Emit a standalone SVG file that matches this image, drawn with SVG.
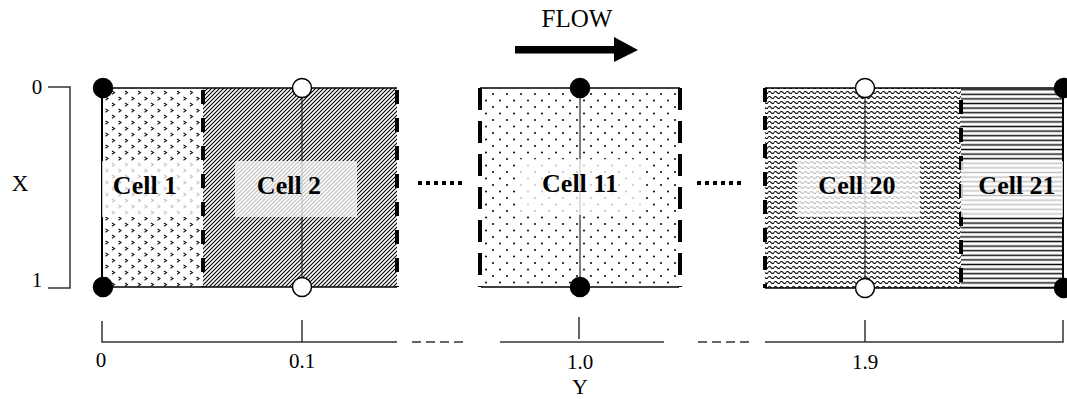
<svg xmlns="http://www.w3.org/2000/svg" width="1067" height="399" viewBox="0 0 1067 399">
<defs>
  <pattern id="pChev" patternUnits="userSpaceOnUse" width="13" height="12">
    <path d="M1.5,1 L4,2.6 L1.5,4.2 M8,7 L10.5,8.6 L8,10.2" fill="none" stroke="#111" stroke-width="1.1"/>
  </pattern>
  <pattern id="pDiag" patternUnits="userSpaceOnUse" width="4" height="4">
    <path d="M-1,1 L1,-1 M0,4 L4,0 M3,5 L5,3" stroke="#000" stroke-width="1.1"/>
  </pattern>
  <pattern id="pDots" patternUnits="userSpaceOnUse" width="14" height="13">
    <circle cx="3" cy="3" r="1" fill="#000"/>
    <circle cx="10" cy="9.5" r="1" fill="#000"/>
  </pattern>
  <pattern id="pWave" patternUnits="userSpaceOnUse" width="6" height="5">
    <path d="M0,2.5 Q1.5,0.5 3,2.5 T6,2.5" fill="none" stroke="#000" stroke-width="1.2"/>
  </pattern>
  <pattern id="pHor" patternUnits="userSpaceOnUse" width="6" height="4.6">
    <path d="M0,2.3 H6" stroke="#111" stroke-width="1.5"/>
  </pattern>
</defs>
<style>
  .lbl { font-family: "Liberation Serif", "Times New Roman", serif; font-weight: bold; font-size: 26px; fill: #000; text-anchor: middle; }
  .txt { font-family: "Liberation Serif", "Times New Roman", serif; font-size: 21px; fill: #000; text-anchor: middle; }
  .box { fill: #fff; fill-opacity: 0.75; }
  .edge { stroke: #000; stroke-width: 1.6; fill: none; }
  .mid { stroke: #000; stroke-width: 1; }
  .dash { stroke: #000; stroke-width: 4; fill: none; }
  .axis { stroke: #333; stroke-width: 1.5; fill: none; }
  .full { fill: #000; stroke: #000; stroke-width: 1.5; }
  .open { fill: #fff; stroke: #000; stroke-width: 1.5; }
</style>

<!-- Flow arrow -->
<g id="flow">
  <text x="577" y="27" class="txt" style="font-size:25px">FLOW</text>
  <rect x="515" y="46" width="102" height="7.5" fill="#000"/>
  <polygon points="614,37 638,50 614,62" fill="#000"/>
</g>

<!-- Cells -->
<g id="cell1">
  <rect x="102" y="88" width="101" height="199" fill="url(#pChev)"/>
</g>
<g id="cell2">
  <rect x="203" y="88" width="194" height="199" fill="url(#pDiag)"/>
</g>
<g id="cell11">
  <rect x="480" y="88" width="200" height="199" fill="url(#pDots)"/>
</g>
<g id="cell20">
  <rect x="765" y="88" width="196" height="200" fill="url(#pWave)"/>
</g>
<g id="cell21">
  <rect x="961" y="88" width="102" height="200" fill="url(#pHor)"/>
</g>

<!-- Grid lines, boundaries and separators -->
<g id="connectors">
  <line x1="102" y1="88" x2="397" y2="88" class="edge"/>
  <line x1="102" y1="287" x2="397" y2="287" class="edge"/>
  <line x1="102" y1="88" x2="102" y2="287" class="edge" style="stroke-width:2"/>
  <line x1="302" y1="88" x2="302" y2="287" class="mid"/>
  <line x1="203" y1="90" x2="203" y2="287" class="dash" stroke-dasharray="14 14"/>
  <line x1="397" y1="90" x2="397" y2="287" class="dash" stroke-dasharray="14 14"/>
  <line x1="480" y1="88" x2="680" y2="88" class="edge"/>
  <line x1="481" y1="287" x2="679" y2="287" class="edge"/>
  <line x1="580" y1="88" x2="580" y2="287" class="mid"/>
  <line x1="480" y1="88" x2="480" y2="287" class="dash" stroke-dasharray="22 11"/>
  <line x1="680" y1="88" x2="680" y2="287" class="dash" stroke-dasharray="22 11"/>
  <line x1="765" y1="88" x2="1063" y2="88" class="edge"/>
  <line x1="765" y1="288" x2="1063" y2="288" class="edge"/>
  <line x1="1063" y1="88" x2="1063" y2="288" class="edge" style="stroke-width:2"/>
  <line x1="865" y1="88" x2="865" y2="288" class="mid"/>
  <line x1="765" y1="88" x2="765" y2="288" class="dash" stroke-dasharray="14 14"/>
  <line x1="961" y1="88" x2="961" y2="288" class="dash" stroke-dasharray="14 14" stroke-dashoffset="-40"/>
  <line x1="418" y1="183" x2="464" y2="183" stroke="#000" stroke-width="4" stroke-dasharray="4 4"/>
  <line x1="697" y1="183" x2="743" y2="183" stroke="#000" stroke-width="4" stroke-dasharray="4 4"/>
</g>

<!-- Label boxes and texts -->
<g id="labels">
  <rect x="102" y="161" width="98" height="56" class="box"/>
  <rect x="235" y="161" width="122" height="56" class="box"/>
  <rect x="519" y="159" width="122" height="56" class="box"/>
  <rect x="797" y="161" width="123" height="56" class="box"/>
  <rect x="961" y="161" width="102" height="56" class="box"/>
  <text x="145" y="194" class="lbl">Cell 1</text>
  <text x="289" y="194" class="lbl">Cell 2</text>
  <text x="580" y="192" class="lbl">Cell 11</text>
  <text x="857" y="194" class="lbl">Cell 20</text>
  <text x="1017" y="194" class="lbl">Cell 21</text>
</g>

<!-- Nodes -->
<g id="nodes">
  <circle cx="103" cy="88" r="9.5" class="full"/>
  <circle cx="103" cy="287" r="9.5" class="full"/>
  <circle cx="302" cy="88" r="9.5" class="open"/>
  <circle cx="302" cy="287" r="9.5" class="open"/>
  <circle cx="580" cy="88" r="9.5" class="full"/>
  <circle cx="580" cy="287" r="9.5" class="full"/>
  <circle cx="865" cy="88" r="9.5" class="open"/>
  <circle cx="865" cy="288" r="9.5" class="open"/>
  <circle cx="1064" cy="88" r="9.5" class="full"/>
  <circle cx="1064" cy="288" r="9.5" class="full"/>
</g>

<!-- X axis bracket -->
<g id="x-axis">
  <path d="M48,87 H70 V288 H48" class="axis"/>
  <text x="37" y="94" class="txt">0</text>
  <text x="37" y="287" class="txt">1</text>
  <text x="20" y="191" class="txt" style="font-size:23px">X</text>
</g>

<!-- Y axis -->
<g id="y-axis">
  <path d="M102,321 V342 H397" class="axis"/>
  <line x1="302" y1="320" x2="302" y2="342" class="axis"/>
  <line x1="412" y1="342" x2="463" y2="342" class="axis" stroke-dasharray="9 5"/>
  <line x1="500" y1="342" x2="664" y2="342" class="axis"/>
  <line x1="579" y1="317" x2="579" y2="339" class="axis"/>
  <line x1="698" y1="342" x2="750" y2="342" class="axis" stroke-dasharray="9 5"/>
  <path d="M765,342 H1063 V320" class="axis"/>
  <line x1="865" y1="320" x2="865" y2="342" class="axis"/>
  <text x="101" y="367" class="txt">0</text>
  <text x="302" y="368" class="txt">0.1</text>
  <text x="580" y="369" class="txt">1.0</text>
  <text x="865" y="369" class="txt">1.9</text>
  <text x="580" y="394" class="txt" style="font-size:22px">Y</text>
</g>
</svg>
